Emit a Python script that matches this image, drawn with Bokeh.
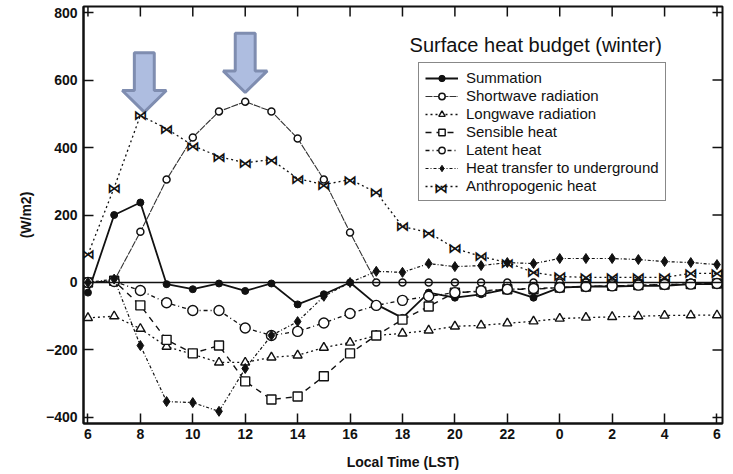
from bokeh.plotting import figure
from bokeh.models import Range1d, FixedTicker, Span, Legend, LegendItem, Label, ColumnDataSource
from bokeh.embed import file_html
from bokeh.resources import INLINE
from bokeh.core.properties import value

hours = list(range(6, 31))
tick_hours = list(range(6, 31, 2))
tick_labels = [str(h % 24) for h in tick_hours]
y_ticks = [-400, -200, 0, 200, 400, 600, 800]

summation = [-30, 200, 237, -5, -20, -3, -25, -3, -65, -35, 0, -65, -105, -30, -45, -35, -20, -45, -15, -12, -12, -10, -10, -5, -5]
shortwave = [0, 5, 150, 305, 430, 507, 536, 507, 427, 305, 148, 0, 0, 0, 0, 0, 0, 0, 0, 0, 0, 0, 0, 0, 0]
longwave = [-105, -100, -137, -190, -213, -237, -237, -222, -216, -193, -178, -157, -151, -142, -130, -127, -121, -115, -107, -104, -102, -100, -98, -97, -97]
sensible = [0, 5, -68, -170, -210, -187, -293, -347, -338, -278, -210, -157, -110, -71, -30, -27, -20, -20, -15, -12, -10, -8, -6, -5, -3]
latent = [0, 3, -24, -60, -83, -83, -135, -157, -145, -120, -92, -68, -53, -41, -30, -25, -20, -18, -15, -12, -10, -8, -6, -5, -3]
underground = [0, 10, -187, -353, -356, -382, -255, -157, -116, -41, 0, 33, 30, 56, 47, 50, 59, 56, 71, 71, 71, 68, 62, 59, 53]
anthropogenic = [83, 281, 495, 456, 406, 373, 355, 364, 308, 290, 305, 267, 166, 148, 101, 77, 59, 30, 18, 15, 15, 15, 15, 27, 27]

names = ["Summation", "Shortwave radiation", "Longwave radiation", "Sensible heat",
         "Latent heat", "Heat transfer to underground", "Anthropogenic heat"]

INK = "#111111"
FONT = "Liberation Sans"
X_MIN, X_MAX = 5.83, 30.21
Y_MIN, Y_MAX = -418, 818
FRAME_W, FRAME_H = 639, 419
PX_X = FRAME_W / (X_MAX - X_MIN)
PX_Y = FRAME_H / (Y_MAX - Y_MIN)

p = figure(width=726, height=472, output_backend="svg", toolbar_location=None,
           x_range=Range1d(X_MIN, X_MAX), y_range=Range1d(Y_MIN, Y_MAX),
           min_border_left=83, min_border_right=4, min_border_top=6, min_border_bottom=47)
p.grid.visible = False
p.outline_line_color = INK
p.outline_line_width = 2
p.background_fill_color = "white"
p.border_fill_color = "white"

for ax in (p.xaxis[0], p.yaxis[0]):
    ax.axis_line_color = INK
    ax.axis_line_width = 2
    ax.major_tick_line_color = INK
    ax.major_tick_line_width = 1.5
    ax.major_tick_in = 10
    ax.major_tick_out = 0
    ax.minor_tick_line_color = None
    ax.major_label_text_font = FONT
    ax.major_label_text_font_style = "bold"
    ax.major_label_text_font_size = "14px"
    ax.major_label_text_color = INK
    ax.axis_label_text_font = FONT
    ax.axis_label_text_font_style = "bold"
    ax.axis_label_text_font_size = "14px"
    ax.axis_label_text_color = INK

p.xaxis.ticker = FixedTicker(ticks=tick_hours)
p.yaxis.ticker = FixedTicker(ticks=y_ticks)
p.xaxis.major_label_overrides = {h: l for h, l in zip(tick_hours, tick_labels)}
p.xaxis.axis_label = "Local Time (LST)"
p.yaxis.axis_label = "(W/m2)"
p.xaxis.major_label_standoff = 5
p.xaxis.axis_label_standoff = 12
p.yaxis.major_label_standoff = 6
p.yaxis.axis_label_standoff = 9

# inward tick marks on the top and right frame edges, from the tick lists
tick_len_y = 10 / PX_Y
tick_len_x = 10 / PX_X
p.segment(x0=tick_hours, y0=[Y_MAX] * len(tick_hours), x1=tick_hours,
          y1=[Y_MAX - tick_len_y] * len(tick_hours), line_color=INK, line_width=1.5)
p.segment(x0=[X_MAX] * len(y_ticks), y0=y_ticks, x1=[X_MAX - tick_len_x] * len(y_ticks),
          y1=y_ticks, line_color=INK, line_width=1.5)

p.add_layout(Span(location=0, dimension="width", line_color=INK, line_width=1.6))

# arrows (annotations pointing at the morning/noon peaks)
def arrow(xc, tip):
    hh, sh, hl, sl = 0.84, 0.38, 64, 112
    xs = [xc, xc - hh, xc - sh, xc - sh, xc + sh, xc + sh, xc + hh]
    ys = [tip, tip + hl, tip + hl, tip + hl + sl, tip + hl + sl, tip + hl, tip + hl]
    return xs, ys

a1 = arrow(hours[2] + 0.15, anthropogenic[2] + 10)
a2 = arrow(hours[6], shortwave[6] + 27)
p.patches([a1[0], a2[0]], [a1[1], a2[1]], fill_color="#aebde0", line_color="#7f8db0", line_width=3)

src = ColumnDataSource(dict(x=hours, s=summation, sw=shortwave, lw=longwave, se=sensible,
                            la=latent, ug=underground, an=anthropogenic,
                            bt=["\u22c8"] * len(hours)))

items = []
r1 = p.line("x", "s", source=src, line_color=INK, line_width=1.8)
m1 = p.scatter("x", "s", source=src, marker="circle", size=7, fill_color=INK, line_color=INK)
items.append(LegendItem(label=names[0], renderers=[r1, m1]))

r2 = p.line("x", "sw", source=src, line_color="#333333", line_width=1.1, line_dash="7 1")
m2 = p.scatter("x", "sw", source=src, marker="circle", size=7, fill_color="white", line_color=INK, line_width=1.5)
items.append(LegendItem(label=names[1], renderers=[r2, m2]))

r3 = p.line("x", "lw", source=src, line_color=INK, line_width=1.3, line_dash="2 3")
m3 = p.scatter("x", "lw", source=src, marker="triangle", size=9, fill_color="white", line_color=INK, line_width=1.4)
items.append(LegendItem(label=names[2], renderers=[r3, m3]))

r4 = p.line("x", "se", source=src, line_color=INK, line_width=1.4, line_dash="6 5")
m4 = p.scatter("x", "se", source=src, marker="square", size=9, fill_color="white", line_color=INK, line_width=1.4)
items.append(LegendItem(label=names[3], renderers=[r4, m4]))

r5 = p.line("x", "la", source=src, line_color=INK, line_width=1.3, line_dash="4 3 1 3")
m5 = p.scatter("x", "la", source=src, marker="circle", size=10, fill_color="white", line_color=INK, line_width=1.4)
items.append(LegendItem(label=names[4], renderers=[r5, m5]))

r6 = p.line("x", "ug", source=src, line_color=INK, line_width=1.2, line_dash="3 2 1 2")
m6 = p.scatter("x", "ug", source=src, marker="diamond", size=10, fill_color=INK, line_color=INK)
items.append(LegendItem(label=names[5], renderers=[r6, m6]))

r7 = p.line("x", "an", source=src, line_color=INK, line_width=1.3, line_dash="2 3")
m7 = p.text("x", "an", text="bt", source=src, text_font=value("DejaVu Sans"), text_font_size="14px",
            text_align="center", text_baseline="middle", text_color=INK, text_font_style="bold")
items.append(LegendItem(label=names[6], renderers=[r7, m7]))

LEG_X, LEG_Y, PAD, GW, LH, SP = 335, 222, 6, 33, 16, 1

# legend box background drawn beneath (so the bowtie swatch below can show through
# the transparent legend), plus the bowtie swatch for the last entry
p.text(x=[X_MIN + (LEG_X + PAD + GW / 2) / PX_X], y=[Y_MIN + (LEG_Y + PAD + 8.5) / PX_Y],
       text=["\u22c8"], text_font=value("DejaVu Sans"), text_font_size="14px", text_font_style="bold",
       text_align="center", text_baseline="middle", text_color=INK)

legend = Legend(items=items, location=(LEG_X, LEG_Y), orientation="vertical",
                label_text_font=FONT, label_text_font_size="15px", label_text_color=INK,
                glyph_width=GW, glyph_height=LH, label_height=LH, spacing=SP, padding=PAD, margin=0,
                label_standoff=8, border_line_color=INK, border_line_width=1.5,
                background_fill_color="white", background_fill_alpha=0)
p.add_layout(legend, "center")

p.add_layout(Label(x=23.19, y=703, text="Surface heat budget  (winter)", text_font=FONT,
                   text_font_size="20px", text_color=INK, text_align="center", text_baseline="middle"))

open("out.html", "w").write(file_html(p, INLINE))
